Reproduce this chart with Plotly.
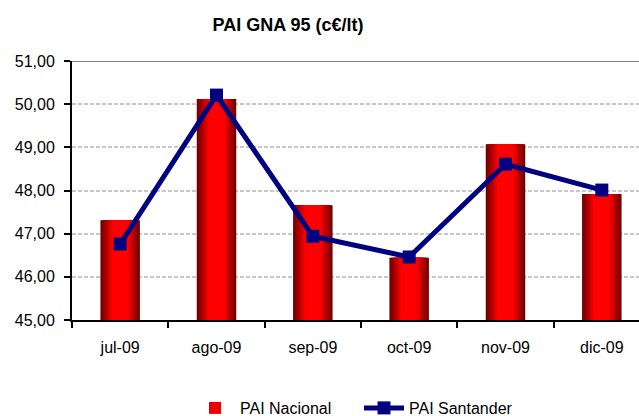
import plotly.graph_objects as go

categories = ["jul-09", "ago-09", "sep-09", "oct-09", "nov-09", "dic-09"]
pai_nacional = [47.31, 50.12, 47.66, 46.44, 49.07, 47.92]
pai_santander = [46.76, 50.21, 46.94, 46.46, 48.61, 48.01]
y_ticks = [45, 46, 47, 48, 49, 50, 51]

FONT = "Liberation Sans, Arial, sans-serif"
fig = go.Figure()

# Simulated horizontal gradient for bars: overlaid bars of decreasing width
N = 14
W = 0.41
dark = (112, 0, 0)
bright = (255, 0, 0)
for i in range(N):
    w = W * (1 - i / N)
    t = min(1.0, (i / (N - 1)) * 1.6)
    c = tuple(int(dark[k] + (bright[k] - dark[k]) * t) for k in range(3))
    fig.add_trace(go.Bar(
        x=categories, y=pai_nacional, width=w,
        marker=dict(color="rgb(%d,%d,%d)" % c, line=dict(width=0)),
        name="PAI Nacional", showlegend=(i == N // 2), legendgroup="nac",
        hoverinfo="skip" if i else None,
    ))

fig.add_trace(go.Scatter(
    x=categories, y=pai_santander, mode="lines+markers", name="PAI Santander",
    line=dict(color="#000080", width=5),
    marker=dict(symbol="square", size=13, color="#000080"),
))

fig.add_shape(type="line", xref="paper", x0=0, x1=1, yref="y", y0=51, y1=51,
              line=dict(color="#808080", width=2), layer="above")

PL, PT, PW, PH = 72, 61, 567, 259

fig.update_layout(
    width=639, height=416,
    barmode="overlay",
    separators=",.",
    paper_bgcolor="white", plot_bgcolor="white",
    margin=dict(l=PL, r=0, t=PT, b=416 - PT - PH, autoexpand=False),
    font=dict(family=FONT, size=16, color="black"),
    title=dict(text="<b>PAI GNA 95 (c€/lt)</b>", x=288 / 639, xanchor="center",
               y=1 - 25 / 416, yanchor="middle", font=dict(size=18, family=FONT)),
    xaxis=dict(type="category", range=[-0.5, 5.386], showgrid=False,
               showline=True, linecolor="black", linewidth=2,
               ticks="outside", tickson="boundaries", ticklen=6, tickwidth=2, tickcolor="black",
               ticklabelstandoff=12, tickfont=dict(size=16), fixedrange=True),
    yaxis=dict(range=[45, 51], tickvals=y_ticks, tickformat=".2f",
               showline=True, linecolor="black", linewidth=2,
               ticks="outside", ticklen=6, tickwidth=2, tickcolor="black",
               ticklabelstandoff=6,
               showgrid=True, gridcolor="#c8c8c8", griddash="4px,2px", gridwidth=2,
               zeroline=False, tickfont=dict(size=16)),
    legend=dict(orientation="h", x=(190 - PL) / PW, xanchor="left", y=-(408 - (PT + PH)) / PH,
                yanchor="middle", font=dict(size=16), bgcolor="rgba(0,0,0,0)",
                itemwidth=40, entrywidth=114, traceorder="normal"),
)

fig.write_html("out.html", config={"displayModeBar": False},
               post_script="document.body.style.margin='0';")
